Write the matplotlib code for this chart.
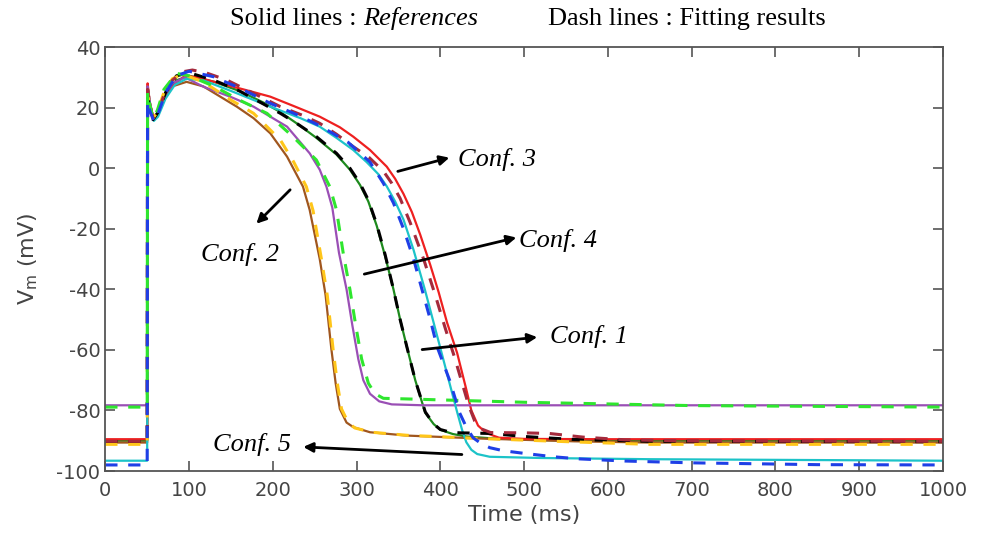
import matplotlib
matplotlib.use('Agg')
import matplotlib.pyplot as plt

plt.rcParams['axes.unicode_minus'] = False

# Conf. 1 -- reference (solid) and fitting result (dashed)
conf1_ref_t = [0, 50, 50.5, 53, 57, 63, 72, 85, 100, 130, 160, 190, 209, 230, 252, 276, 292, 304, 314, 324, 334, 344, 352, 360, 370, 382, 392, 400, 415, 431, 460, 520, 600, 1000]
conf1_ref_v = [-90, -90, 27, 22, 16.5, 18, 24, 29, 30.5, 28.5, 25.5, 21.5, 18.5, 14.5, 10, 4.5, -0.5, -5.5, -11, -19, -29, -40, -50, -59, -70, -80.8, -84.5, -86.4, -87.8, -88.6, -89.2, -89.8, -90, -90]
conf1_fit_t = [0, 50, 50.5, 53, 57, 63, 72, 85, 100, 130, 160, 190, 209, 230, 252, 276, 292, 304, 314, 324, 334, 344, 352, 360, 370, 382, 392, 400, 412, 424, 460, 500, 560, 650, 1000]
conf1_fit_v = [-90.3, -90.3, 24, 20, 16, 18.5, 25, 30.5, 31.5, 29, 25.5, 21, 18.1, 14.5, 10.4, 4.9, 0, -5, -10.5, -18.5, -28.5, -40, -50, -59, -70, -80.5, -84.5, -86.3, -87.2, -87.4, -87.6, -88.6, -89.6, -90.2, -90.3]

# Conf. 2
conf2_ref_t = [0, 50, 50.5, 53, 57, 62, 70, 80, 97, 117, 157, 177, 197, 217, 236, 244, 256, 263, 270, 275, 280, 288, 296, 316, 360, 450, 560, 650, 1000]
conf2_ref_v = [-90.6, -90.6, 26, 21, 16.5, 17.5, 22.5, 27, 28.5, 27, 20.3, 16.5, 11.5, 3.8, -6.1, -13.8, -30, -42, -60, -71, -79.5, -84, -85.5, -87.2, -88.3, -89.3, -90.2, -90.6, -90.6]
conf2_fit_t = [0, 50, 50.5, 53, 57, 62, 70, 80, 92, 117, 150, 177, 209, 225, 240, 248, 258, 265, 272, 277, 282, 290, 298, 318, 360, 450, 560, 650, 1000]
conf2_fit_v = [-91.2, -91.2, 25, 20.5, 16.5, 18.5, 25, 29.5, 31, 28.5, 22.5, 18.1, 9.3, 2, -6.1, -14, -30, -42, -60, -71, -79.5, -84, -85.8, -87.2, -88.2, -89.3, -90.4, -91.2, -91.2]

# Conf. 3
conf3_ref_t = [0, 50, 50.5, 53, 57, 62, 70, 80, 95, 110, 137, 165, 197, 225, 256, 280, 296, 316, 336, 346, 356, 366, 376, 388, 398, 408, 420, 430, 437, 445, 455, 470, 500, 600, 1000]
conf3_ref_v = [-89.5, -89.5, 28, 22, 17, 17.5, 22.5, 27, 30.5, 30, 28, 26, 23.6, 20.5, 17, 13.5, 10.4, 6, 0.5, -3.5, -8.5, -14.5, -22, -32, -41, -51, -61, -72, -80, -85, -87.5, -89, -89.4, -89.5, -89.5]
conf3_fit_t = [0, 50, 50.5, 53, 57, 62, 70, 80, 92, 104, 120, 145, 175, 209, 235, 256, 276, 296, 315, 332, 342, 352, 364, 380, 394, 406, 417, 426, 434, 441, 448, 460, 500, 530, 570, 620, 700, 1000]
conf3_fit_v = [-90.2, -90.2, 26, 21, 16.5, 18, 24, 29, 31.8, 32.4, 31.5, 29.1, 25, 20.3, 17.5, 14.8, 11.2, 7.1, 3.5, -1, -5, -10, -18, -30, -42, -53, -62.5, -71, -78.5, -83.5, -86, -87.3, -87.4, -87.6, -88.8, -89.7, -90.1, -90.2]

# Conf. 4
conf4_ref_t = [0, 50, 50.5, 53, 57, 62, 70, 80, 95, 117, 150, 177, 217, 244, 256, 264, 271, 279, 288, 295, 302, 308, 316, 327, 342, 380, 1000]
conf4_ref_v = [-78.3, -78.3, 27, 22, 16.5, 18, 23.5, 28, 30, 26.9, 23.5, 20.3, 13.7, 4.9, -0.5, -6.1, -13, -28, -40, -52, -63, -70, -74.5, -77, -78, -78.3, -78.3]
conf4_fit_t = [0, 50, 50.5, 53, 57, 62, 70, 85, 100, 130, 160, 193, 224, 252, 268, 276, 284, 292, 299, 306, 314, 322, 332, 360, 500, 700, 1000]
conf4_fit_v = [-78.9, -78.9, 25, 21, 16.5, 19, 26, 31.3, 30.5, 27, 22.5, 18.1, 10.4, 2.7, -6.1, -13.8, -28, -40, -52, -63, -71, -74.5, -76, -76.2, -77.3, -78.4, -78.9]

# Conf. 5
conf5_ref_t = [0, 50, 50.5, 53, 58, 63, 72, 83, 97, 117, 150, 197, 233, 256, 276, 296, 312, 326, 336, 346, 356, 368, 381.6, 391, 399.5, 410, 420, 426, 431, 437, 444, 459, 520, 650, 1000]
conf5_ref_v = [-96.6, -96.6, 26, 21, 15.6, 17, 23, 27.5, 29.5, 29, 25.5, 20.3, 16.5, 13.7, 10, 6, 2, -2, -6, -11, -17, -27, -40.2, -50, -58.9, -70, -80.5, -86.5, -90.5, -93, -94.4, -95.3, -95.7, -96.1, -96.6]
conf5_fit_t = [0, 50, 50.5, 53, 58, 63, 72, 85, 100, 129, 160, 197, 230, 256, 290, 316, 332, 344, 356, 368, 378, 388, 396, 411, 423, 431, 439, 449, 459, 475, 495, 535, 566, 620, 700, 850, 1000]
conf5_fit_v = [-98, -98, 22, 19, 15.5, 18, 25, 30.5, 32, 30.2, 26.5, 21.4, 17.5, 14, 8.5, 2, -5, -11.5, -20, -30, -40, -50, -58.9, -70, -80.8, -85.5, -89, -91, -92.3, -93.3, -94, -95.3, -96, -96.7, -97.3, -97.9, -98]

solid_lines = [
    (conf1_ref_t, conf1_ref_v, '#1e8a1e'),
    (conf2_ref_t, conf2_ref_v, '#a0561e'),
    (conf3_ref_t, conf3_ref_v, '#ee2020'),
    (conf4_ref_t, conf4_ref_v, '#9a4fb5'),
    (conf5_ref_t, conf5_ref_v, '#1cc3c8'),
]
dash_lines = [
    (conf1_fit_t, conf1_fit_v, 'black'),
    (conf2_fit_t, conf2_fit_v, '#ffc61a'),
    (conf3_fit_t, conf3_fit_v, '#a52a3c'),
    (conf4_fit_t, conf4_fit_v, '#2ee62e'),
    (conf5_fit_t, conf5_fit_v, '#1f3fe6'),
]

# label text, text position, arrow start, arrow end, alignment
labels = [
    ('Conf. 1', (531, -55.7), (375, -60), (519, -55.7), 'left'),
    ('Conf. 2', (161, -28.6), (223, -6.5), (178, -19), 'center'),
    ('Conf. 3', (421, 3.0), (346, -1.3), (414, 3.7), 'left'),
    ('Conf. 4', (494, -24), (306, -35.2), (494, -22.7), 'left'),
    ('Conf. 5', (222, -91.4), (429, -94.6), (233, -92), 'right'),
]

serif = 'Liberation Serif'
gray = '#555555'

fig = plt.figure(figsize=(9.84, 5.33), dpi=100)
ax = fig.add_axes([0.107, 0.1163, 0.8513, 0.7955])

for t, v, c in solid_lines:
    ax.plot(t, v, color=c, lw=1.6)
for t, v, c in dash_lines:
    ax.plot(t, v, color=c, lw=2.2, dashes=(4, 3.5))

for text, pos, start, end, ha in labels:
    ax.annotate('', xy=end, xytext=start,
                arrowprops=dict(arrowstyle='-|>', color='black', lw=2, mutation_scale=14))
    ax.text(pos[0], pos[1], text, family=serif, style='italic', fontsize=19,
            ha=ha, va='center')

ax.set_xlim(0, 1000)
ax.set_ylim(-100, 40)
ax.set_xticks(range(0, 1001, 100))
ax.set_yticks(range(-100, 41, 20))
ax.tick_params(direction='in', length=7, width=1.2, color=gray, labelcolor='#444444',
               labelsize=14, top=True, right=True)
ax.tick_params(axis='x', pad=7)
for sp in ax.spines.values():
    sp.set_color(gray)
    sp.set_linewidth(1.3)
ax.set_xlabel('Time (ms)', fontsize=16, color='#444444', labelpad=4)
ax.set_ylabel('V$_{\\mathrm{m}}$ (mV)', fontsize=16, color='#444444', labelpad=12)

t1 = fig.text(0.234, 0.964, 'Solid lines : ', family=serif, fontsize=19, va='center')
ax.annotate('References', xy=(1, 0), xycoords=t1, family=serif, style='italic',
            fontsize=19, va='bottom', ha='left')
fig.text(0.557, 0.964, 'Dash lines : Fitting results', family=serif, fontsize=19, va='center')

fig.savefig('out.png', dpi=100)
